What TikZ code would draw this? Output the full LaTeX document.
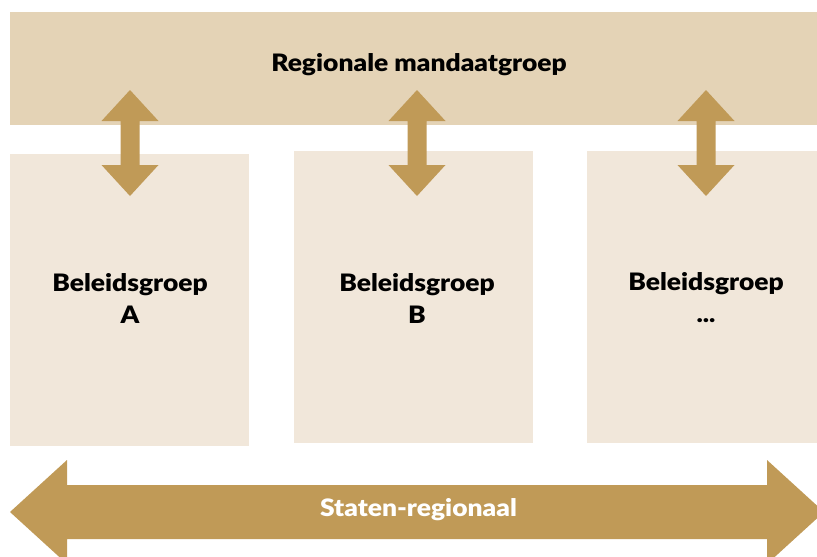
\documentclass[tikz,border=0pt]{standalone}
\usepackage{fontspec}
\setmainfont{Lato}[UprightFont=* Black, FakeStretch=1.1]
\definecolor{band}{HTML}{E4D3B6}
\definecolor{boxc}{HTML}{F1E7DA}
\definecolor{arr}{HTML}{C09A57}
\begin{document}
\begin{tikzpicture}[x=1pt,y=-1pt,
  lbl/.style={font=\fontsize{24}{32}\selectfont, align=center, text=black},
  panel/.style={fill=boxc, draw=none}]
\useasboundingbox (0,0) rectangle (817,557);
\begin{scope}
\clip (0,0) rectangle (817,557);
% top band
\fill[band] (10,12) rectangle (830,125);
\node[lbl] (top) at (419,65) {Regionale mandaatgroep};
% boxes
\fill[panel] (10,154) rectangle (249,446);
\fill[panel] (294,151) rectangle (533,443);
\fill[panel] (587,151) rectangle (830,443);
\node[lbl] (a) at (130,298) {Beleidsgroep\\A};
\node[lbl] (b) at (417,298) {Beleidsgroep\\B};
\node[lbl] (c) at (706,298) {Beleidsgroep\\...};
% vertical double arrows
\foreach \c in {130,417,706}{
  \fill[arr] (\c,90) -- (\c+28.5,121) -- (\c+9.5,121) -- (\c+9.5,165) -- (\c+28.5,165)
    -- (\c,196) -- (\c-28.5,165) -- (\c-9.5,165) -- (\c-9.5,121) -- (\c-28.5,121) -- cycle;
}
% bottom horizontal double arrow
\fill[arr] (10,512) -- (67,460) -- (67,485) -- (767,485) -- (767,460) -- (824,512)
  -- (767,564) -- (767,539) -- (67,539) -- (67,564) -- cycle;
\node[lbl, text=white] (s) at (418.5,510) {Staten-regionaal};
\end{scope}
\end{tikzpicture}
\end{document}
